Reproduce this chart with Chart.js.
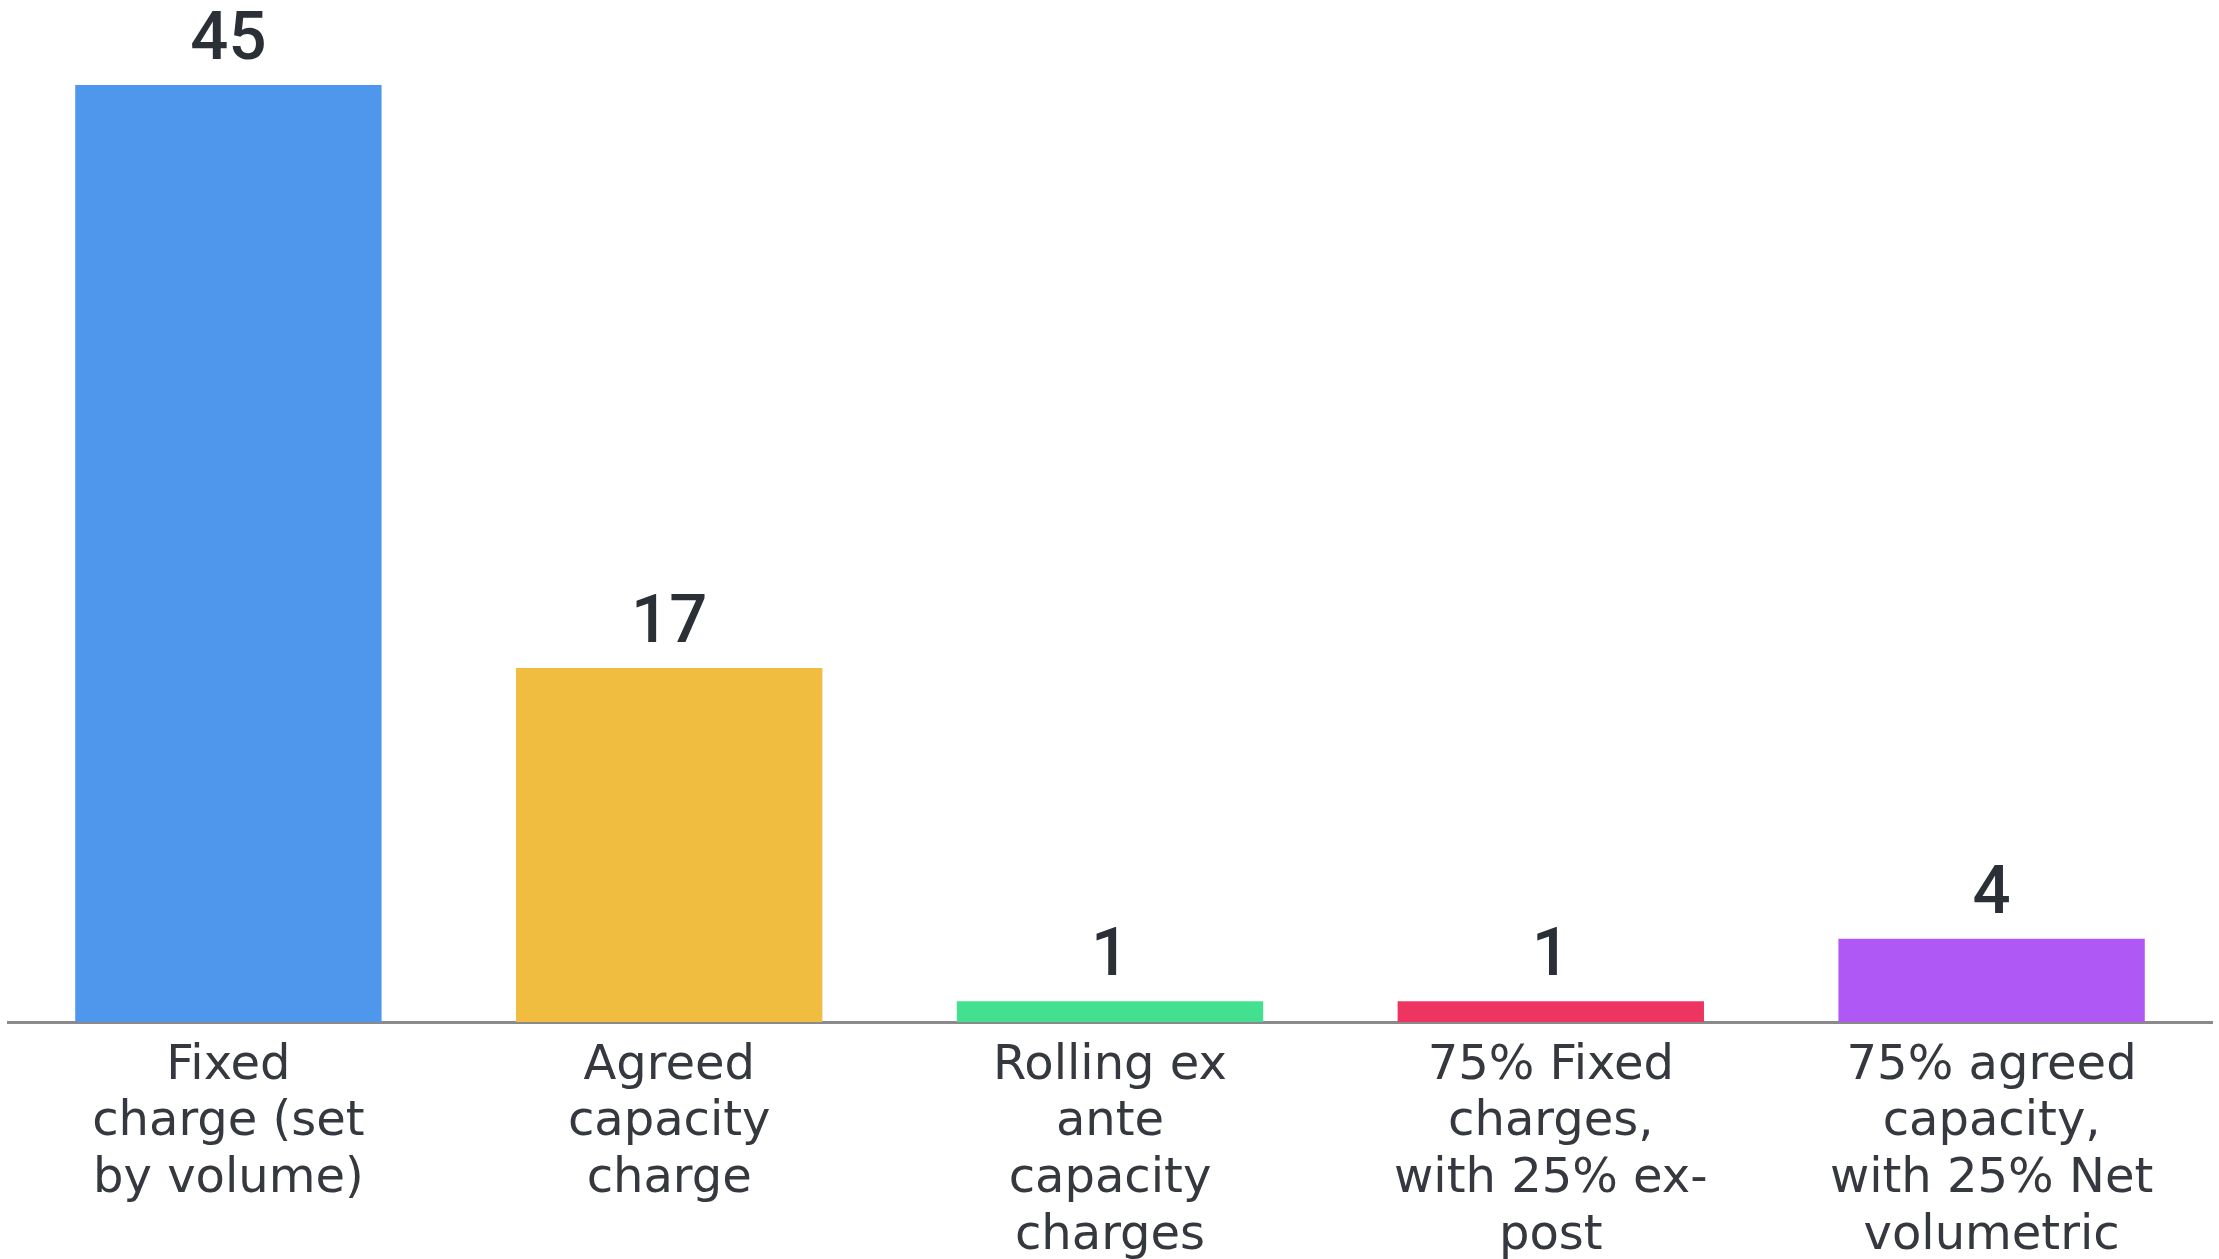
<!DOCTYPE html>
<html>
<head>
<meta charset="utf-8">
<script src="https://cdn.jsdelivr.net/npm/chart.js@4/dist/chart.umd.min.js"></script>
<style>
html,body{margin:0;padding:0;background:#fff;}
#wrap{width:2219px;height:1259px;overflow:hidden;}
</style>
</head>
<body>
<div id="wrap"><canvas id="c" width="2219" height="1259"></canvas></div>
<script>
const categories = [
  ["Fixed", "charge (set", "by volume)"],
  ["Agreed", "capacity", "charge"],
  ["Rolling ex", "ante", "capacity", "charges"],
  ["75% Fixed", "charges,", "with 25% ex-", "post"],
  ["75% agreed", "capacity,", "with 25% Net", "volumetric"]
];
const values = [45, 17, 1, 1, 4];
const barColors = ["#4E97EC", "#F0BD40", "#43E08F", "#EE3461", "#B058F6"];

const valueLabels = {
  id: 'valueLabels',
  afterDatasetsDraw(chart) {
    const ctx = chart.ctx;
    const meta = chart.getDatasetMeta(0);
    ctx.save();
    ctx.font = '500 67px Roboto';
    ctx.fillStyle = '#2B2F36';
    ctx.textAlign = 'center';
    ctx.textBaseline = 'alphabetic';
    meta.data.forEach((bar, i) => {
      ctx.fillText(String(values[i]), bar.x, bar.y - 26);
    });
    ctx.restore();
  }
};

new Chart(document.getElementById('c'), {
  type: 'bar',
  data: {
    labels: categories,
    datasets: [{
      data: values,
      backgroundColor: barColors,
      borderWidth: 0,
      categoryPercentage: 1.0,
      barPercentage: 0.695
    }]
  },
  options: {
    responsive: false,
    animation: false,
    layout: { padding: { top: 85, left: 8, right: 7, bottom: 0 } },
    plugins: { legend: { display: false }, tooltip: { enabled: false } },
    scales: {
      x: {
        grid: { display: false, drawTicks: false },
        border: { display: true, color: '#8A8A8A', width: 3 },
        ticks: {
          color: '#35383E',
          font: { family: '"DejaVu Sans"', size: 48, lineHeight: 1.18 },
          padding: 16,
          maxRotation: 0,
          autoSkip: false
        },
        afterFit(scale) { scale.height = 237; }
      },
      y: {
        display: false,
        min: 0,
        max: 45
      }
    }
  },
  plugins: [valueLabels]
});
</script>
</body>
</html>
